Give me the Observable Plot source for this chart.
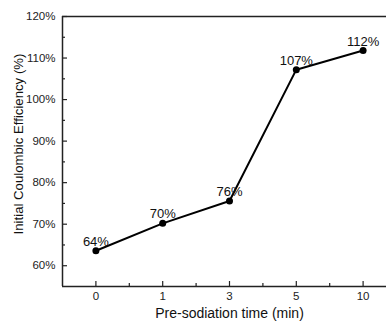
<!DOCTYPE html>
<html><head><meta charset="utf-8">
<script src="https://cdn.jsdelivr.net/npm/d3@7"></script>
<script src="https://cdn.jsdelivr.net/npm/@observablehq/plot@0.6"></script>
<style>body{margin:0;background:#fff;overflow:hidden} svg{max-width:none!important;}</style>
</head><body><div id="chart"></div>
<script>
const categories = ["0", "1", "3", "5", "10"];
const efficiency = [63.6, 70.2, 75.6, 107.2, 111.8];
const pointLabels = ["64%", "70%", "76%", "107%", "112%"];
const yMajorTicks = [60, 70, 80, 90, 100, 110, 120];
const yMinorTicks = [65, 75, 85, 95, 105, 115];
const xAxisTitle = "Pre-sodiation time (min)";
const yAxisTitle = "Initial Coulombic Efficiency (%)";

const data = categories.map((c, i) => ({i, c, v: efficiency[i], label: pointLabels[i]}));
const xMajor = categories.map((_, i) => i);
const xMinor = categories.slice(1).map((_, i) => i + 0.5);

const axisColor = "#222";
const chart = Plot.plot({
  width: 386, height: 326,
  marginLeft: 62, marginRight: -10, marginTop: 16, marginBottom: 40,
  style: {fontFamily: "'Liberation Sans', Arial, sans-serif", fontSize: "11px", color: "#222", background: "#fff", overflow: "visible"},
  x: {domain: [-0.5, 4.5], axis: null},
  y: {domain: [55, 120], axis: null},
  marks: [
    Plot.axisX(xMajor, {tickSize: -5, tickPadding: 10, tickFormat: i => categories[i], label: null, stroke: axisColor, strokeWidth: 1.2, fontSize: 11.5}),
    Plot.axisX(xMinor, {tickSize: -3, tickFormat: () => "", label: null, stroke: axisColor, strokeWidth: 1.2}),
    Plot.axisY(yMajorTicks, {tickSize: -5, tickPadding: 12, tickFormat: d => d + "%", label: null, stroke: axisColor, strokeWidth: 1.2, fontSize: 11.5}),
    Plot.axisY(yMinorTicks, {tickSize: -3, tickFormat: () => "", label: null, stroke: axisColor, strokeWidth: 1.2}),
    Plot.ruleX([-0.5], {stroke: axisColor, strokeWidth: 1.5}),
    Plot.ruleY([55, 120], {stroke: axisColor, strokeWidth: 1.5}),
    Plot.line(data, {x: "i", y: "v", stroke: "#000", strokeWidth: 2}),
    Plot.dot(data, {x: "i", y: "v", r: 3.5, fill: "#000"}),
    Plot.text(data, {x: "i", y: "v", text: "label", lineAnchor: "bottom", dy: -5, fontSize: 13, fill: "#111"}),
    Plot.text([xAxisTitle], {frameAnchor: "bottom", dy: 31, fontSize: 14, fill: "#111"}),
    Plot.text([yAxisTitle], {frameAnchor: "left", textAnchor: "middle", rotate: -90, dx: -44, dy: -7.5, fontSize: 13.2, fill: "#111"})
  ]
});
document.getElementById("chart").appendChild(chart);
</script>
</body></html>
